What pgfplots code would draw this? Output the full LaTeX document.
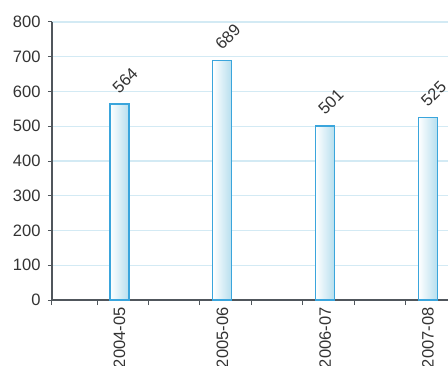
\documentclass[border=0pt]{standalone}
\usepackage{fontspec}
\setmainfont{Liberation Sans}
\usepackage{pgfplots}
\pgfplotsset{compat=1.18}
\definecolor{axisgray}{HTML}{50565C}
\definecolor{gridblue}{HTML}{D3EAF4}
\definecolor{barblue}{HTML}{3AA5DC}
\definecolor{barfill}{HTML}{B5DEEE}
\definecolor{txt}{HTML}{333333}
\begin{document}
\begin{tikzpicture}
\clip (-52pt,-65pt) rectangle (396pt,300pt);
\begin{axis}[
  x=102.8pt, y=0.3475pt,
  xmin=0.343, xmax=4.3, ymin=0, ymax=800,
  axis x line*=bottom, axis y line*=left,
  axis line style={axisgray, line width=1.6pt, -},
  ytick={0,100,...,800},
  ymajorgrids,
  major grid style={gridblue, line width=1.4pt},
  tick align=outside,
  major tick length=4pt,
  minor tick length=5pt,
  ytick style={draw=axisgray, line width=1pt},
  xtick={1,2,3,4},
  xticklabels={2004-05,2005-06,2006-07,2007-08},
  minor xtick={0.343,0.781,1.281,1.781,2.281,2.781,3.281,3.781,4.281},
  every major x tick/.append style={draw=none},
  every minor x tick/.append style={draw=axisgray, line width=1pt},
  /pgf/number format/assume math mode=true,
  tick label style={font=\fontsize{16.5}{19}\selectfont, text=txt},
  yticklabel style={xshift=-4pt},
  xticklabel style={rotate=90, anchor=east},
  clip=false,
  mybar/.style={ybar, bar width=0.185, draw=barblue, line width=1.2pt,
    left color=white, right color=barfill, mark=none,
    nodes near coords,
    nodes near coords style={xshift=0pt, yshift=9pt, rotate=45, anchor=south west, inner sep=0pt,
      font=\fontsize{16.5}{19}\selectfont, text=txt}},
]
\addplot[mybar] coordinates {(1,564)};
\addplot[mybar] coordinates {(2,689)};
\addplot[mybar] coordinates {(3,501)};
\addplot[mybar] coordinates {(4,525)};
\end{axis}
\end{tikzpicture}
\end{document}
